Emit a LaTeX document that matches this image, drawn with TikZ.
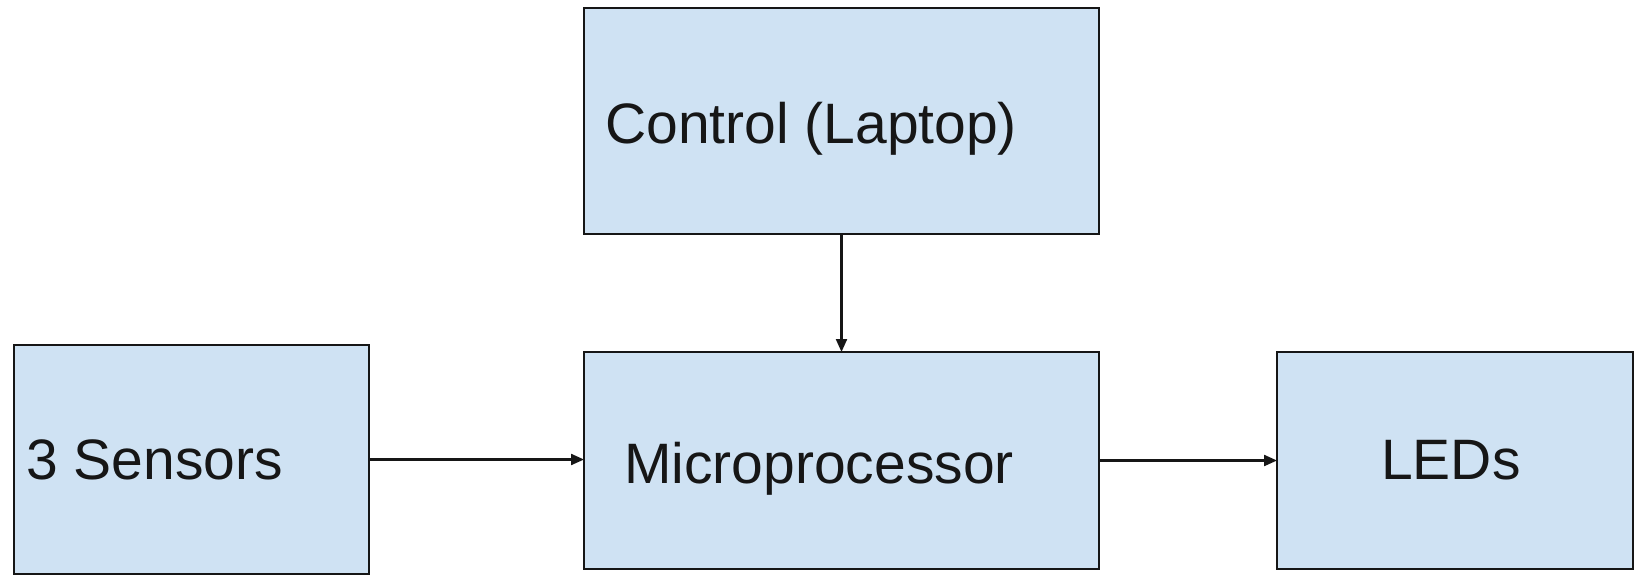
\documentclass[tikz,border=0pt]{standalone}
\usepackage{fontspec}
\setmainfont{Liberation Sans}
\usetikzlibrary{arrows.meta}
\definecolor{boxfill}{HTML}{CFE2F3}
\definecolor{ink}{HTML}{161616}
\begin{document}
\begin{tikzpicture}[x=1pt,y=-1pt,
  blk/.style={draw=ink, line width=2.4pt, fill=boxfill, inner sep=0pt, outer sep=0pt},
  lbl/.style={anchor=base west, inner sep=0pt, text=ink, font=\fontsize{57}{68}\selectfont},
  conn/.style={draw=ink, line width=2.2pt, -{Triangle[length=13pt,width=11pt]}}]
\useasboundingbox (0,0) rectangle (1641,576);
\node[blk, minimum width=515pt, minimum height=226pt] (ctrl) at (841.5,121) {};
\node[blk, minimum width=515pt, minimum height=217pt] (micro) at (841.5,460.5) {};
\node[blk, minimum width=355pt, minimum height=229pt] (sens) at (191.5,459.5) {};
\node[blk, minimum width=356pt, minimum height=217pt] (leds) at (1455,460.5) {};
\node[lbl] (tctrl) at (605,143) {Control (Laptop)};
\node[lbl] (tmicro) at (624,483) {Microprocessor};
\node[lbl] (tsens) at (26,479) {3 Sensors};
\node[lbl] (tleds) at (1381,479) {LEDs};
\draw[conn] (ctrl.south) -- (micro.north);
\draw[conn] (sens.east) -- (sens.east -| micro.west);
\draw[conn] (micro.east) -- (leds.west);
\end{tikzpicture}
\end{document}
